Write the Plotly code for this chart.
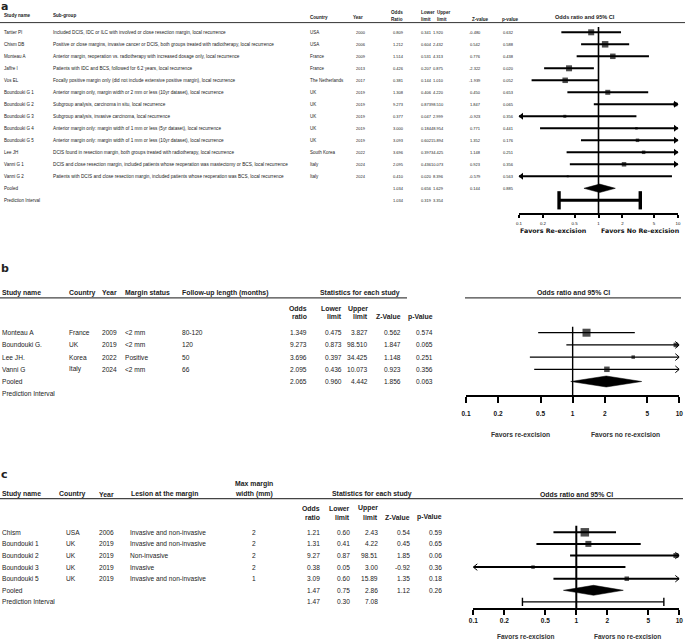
import plotly.graph_objects as go
import html

W, H = 685, 642

# ---------------- Panel a data ----------------
a_study = ["Tartter PI", "Chism DB", "Monteau A", "Jaffre I", "Vos EL",
           "Boundouki G 1", "Boundouki G 2", "Boundouki G 3", "Boundouki G 4",
           "Boundouki G 5", "Lee JH", "Vanni G 1", "Vanni G 2"]
a_subgroup = [
    "Included DCIS, IDC or ILC with involved or close resection margin, local recurrence",
    "Positive or close margins, invasive cancer or DCIS, both groups treated with radiotherapy, local recurrence",
    "Anterior margin, reoperation vs. radiotherapy with increased dosage only, local recurrence",
    "Patients with IDC and BCS, followed for 6.2 years, local recurrence",
    "Focally positive margin only (did not include extensive positive margin), local recurrence",
    "Anterior margin only, margin width or 2 mm or less (10yr dataset), local recurrence",
    "Subgroup analysis, carcinoma in situ, local recurrence",
    "Subgroup analysis, invasive carcinoma, local recurrence",
    "Anterior margin only: margin width of 1 mm or less (5yr dataset), local recurrence",
    "Anterior margin only: margin width of 1 mm or less (10yr dataset), local recurrence",
    "DCIS found in resection margin, both groups treated with radiotherapy, local recurrence",
    "DCIS and close resection margin, included patients whose reoperation was mastectomy or BCS, local recurrence",
    "Patients with DCIS and close resection margin, included patients whose reoperation was BCS, local recurrence",
]
a_country = ["USA", "USA", "France", "France", "The Netherlands", "UK", "UK", "UK",
             "UK", "UK", "South Korea", "Italy", "Italy"]
a_year = ["2000", "2006", "2009", "2013", "2017", "2019", "2019", "2019", "2019",
          "2019", "2022", "2024", "2024"]
a_or = [0.809, 1.212, 1.514, 0.426, 0.381, 1.308, 9.273, 0.377, 3.000, 3.093, 3.696, 2.095, 0.410]
a_lo = [0.341, 0.604, 0.531, 0.207, 0.144, 0.406, 0.873, 0.047, 0.184, 0.602, 0.397, 0.436, 0.020]
a_hi = [1.920, 2.432, 4.313, 0.875, 1.010, 4.220, 98.510, 2.999, 48.954, 15.894, 34.425, 10.073, 8.396]
a_z = [-0.480, 0.542, 0.776, -2.322, -1.939, 0.450, 1.847, -0.923, 0.771, 1.352, 1.148, 0.923, -0.579]
a_p = [0.632, 0.588, 0.438, 0.020, 0.052, 0.653, 0.065, 0.356, 0.441, 0.176, 0.251, 0.356, 0.563]
a_pooled = [1.034, 0.656, 1.629, 0.144, 0.885]      # OR, lower, upper, Z, p
a_pred = [1.034, 0.319, 3.354]                      # OR, lower, upper

# ---------------- Panel b data ----------------
b_study = ["Monteau A", "Boundouki G.", "Lee JH.", "Vanni G"]
b_country = ["France", "UK", "Korea", "Italy"]
b_year = ["2009", "2019", "2022", "2024"]
b_margin = ["<2 mm", "<2 mm", "Positive", "<2 mm"]
b_follow = ["80-120", "120", "50", "66"]
b_or = [1.349, 9.273, 3.696, 2.095]
b_lo = [0.475, 0.873, 0.397, 0.436]
b_hi = [3.827, 98.510, 34.425, 10.073]
b_z = [0.562, 1.847, 1.148, 0.923]
b_p = [0.574, 0.065, 0.251, 0.356]
b_pooled = [2.065, 0.960, 4.442, 1.856, 0.063]

# ---------------- Panel c data ----------------
c_study = ["Chism", "Boundouki 1", "Boundouki 2", "Boundouki 3", "Boundouki 5"]
c_country = ["USA", "UK", "UK", "UK", "UK"]
c_year = ["2006", "2019", "2019", "2019", "2019"]
c_lesion = ["Invasive and non-invasive", "Invasive and non-invasive", "Non-invasive",
            "Invasive", "Invasive and non-invasive"]
c_width = ["2", "2", "2", "2", "1"]
c_or = [1.21, 1.31, 9.27, 0.38, 3.09]
c_lo = [0.60, 0.41, 0.87, 0.05, 0.60]
c_hi = [2.43, 4.22, 98.51, 3.00, 15.89]
c_z = [0.54, 0.45, 1.85, -0.92, 1.35]
c_p = [0.59, 0.65, 0.06, 0.36, 0.18]
c_pooled = [1.47, 0.75, 2.86, 1.12, 0.26]
c_pred = [1.47, 0.30, 7.08]

tick_vals = [0.1, 0.2, 0.5, 1, 2, 5, 10]
tick_text = ["0.1", "0.2", "0.5", "1", "2", "5", "10"]

# ---------------- styles (box sizes in px) ----------------
a_box = [6, 6.5, 5.5, 6, 5.5, 5, 4, 3, 2.5, 3.5, 3.5, 4.5, 2]
b_box = [8, 4.5, 3.5, 5.5]
c_box = [8.5, 6, 5, 3.5, 4.5]

FONT = "Liberation Sans, Arial, sans-serif"
TXT = "#222222"
XMIN, XMAX = 0.1, 10

ann = []
shapes = []
traces = []
layout = {}


def T(x, y, s, size=5.0, anchor="left", bold=False, color=TXT, fam=FONT):
    s = html.escape(str(s), quote=False)
    if bold:
        s = f"<b>{s}</b>"
    ann.append(dict(x=x / W, y=1 - y / H, xref="paper", yref="paper", text=s,
                    showarrow=False, xanchor=anchor, yanchor="middle",
                    font=dict(size=size, color=color, family=fam),
                    borderpad=0, borderwidth=0))


def HL(x0, x1, y, w=1.0, color="#444444"):
    shapes.append(dict(type="line", xref="paper", yref="paper", x0=x0 / W, x1=x1 / W,
                       y0=1 - y / H, y1=1 - y / H, line=dict(color=color, width=w)))


def panel(idx, x0px, x1px, row0, drow, axis_py, top_py, ticklen, tickfont, linew, standoff):
    bottom_row = (axis_py - row0) / drow
    top_row = (top_py - row0) / drow
    layout[f"xaxis{idx}"] = dict(type="log", range=[-1, 1], domain=[x0px / W, x1px / W],
                                 anchor=f"y{idx}", showline=True, linecolor="black",
                                 linewidth=linew, ticks="outside", ticklen=ticklen,
                                 tickwidth=linew, tickcolor="black", tickvals=tick_vals,
                                 ticktext=tick_text, tickfont=tickfont, showgrid=False,
                                 zeroline=False, fixedrange=True, automargin=False,
                                 ticklabelstandoff=standoff)
    layout[f"yaxis{idx}"] = dict(range=[bottom_row, top_row],
                                 domain=[1 - axis_py / H, 1 - top_py / H],
                                 visible=False, anchor=f"x{idx}", fixedrange=True,
                                 automargin=False)
    return bottom_row, (x1px - x0px) / 2.0  # px per decade


def add(tr, idx):
    tr.update(xaxis=f"x{idx}", yaxis=f"y{idx}", hoverinfo="skip", showlegend=False,
              cliponaxis=False)
    traces.append(tr)


def forest(idx, ors, los, his, box, lw, decade_px, vline_top_row, bottom_row,
           vline_w, arrow_style, arrow_px=5.0):
    rows = list(range(len(ors)))
    add(go.Scatter(x=[1, 1], y=[vline_top_row, bottom_row], mode="lines",
                   line=dict(color="black", width=vline_w)), idx)
    xs, ys = [], []
    for l, h, r in zip(los, his, rows):
        xs += [max(l, XMIN), min(h, XMAX), None]
        ys += [r, r, None]
    add(go.Scatter(x=xs, y=ys, mode="lines", line=dict(color="black", width=lw)), idx)
    add(go.Scatter(x=ors, y=rows, mode="markers",
                   marker=dict(symbol="square", size=box, color="black",
                               line=dict(width=0))), idx)
    right = [r for h, r in zip(his, rows) if h > XMAX]
    left = [r for l, r in zip(los, rows) if l < XMIN]
    if arrow_style == "filled":
        shift = 10 ** (arrow_px / 2 / decade_px)
        if right:
            add(go.Scatter(x=[XMAX / shift] * len(right), y=right, mode="markers",
                           marker=dict(symbol="triangle-right", size=arrow_px * 1.2,
                                       color="black", line=dict(width=0))), idx)
        if left:
            add(go.Scatter(x=[XMIN * shift] * len(left), y=left, mode="markers",
                           marker=dict(symbol="triangle-left", size=arrow_px * 1.2,
                                       color="black", line=dict(width=0))), idx)
    else:
        back = 10 ** (arrow_px / decade_px)
        ax, ay = [], []
        for r in right:
            ax += [XMAX / back, XMAX, XMAX / back, None]
            ay += [r - 0.28, r, r + 0.28, None]
        for r in left:
            ax += [XMIN * back, XMIN, XMIN * back, None]
            ay += [r - 0.28, r, r + 0.28, None]
        if ax:
            add(go.Scatter(x=ax, y=ay, mode="lines",
                           line=dict(color="black", width=1.0)), idx)


def diamond(idx, est, lo, hi, row, half):
    add(go.Scatter(x=[lo, est, hi, est, lo], y=[row, row - half, row, row + half, row],
                   mode="lines", fill="toself", fillcolor="black",
                   line=dict(color="black", width=0.5)), idx)


def pred_bar(idx, lo, hi, row, half, lw, capw):
    add(go.Scatter(x=[lo, hi], y=[row, row], mode="lines",
                   line=dict(color="black", width=lw)), idx)
    add(go.Scatter(x=[lo, lo, None, hi, hi], y=[row - half, row + half, None, row - half, row + half],
                   mode="lines", line=dict(color="black", width=capw)), idx)


def f3(v):
    return f"{v:.3f}"


def f2(v):
    return f"{v:.2f}"


# =====================================================================
# Panel a
# =====================================================================
a_row0, a_drow = 32.3, 12.0
a_ry = lambda i: a_row0 + i * a_drow
T(1, 6.5, "a", size=11, bold=True, fam="DejaVu Sans, Arial")
hs = 4.6
T(4, 15.7, "Study name", hs, bold=True)
T(53, 15.7, "Sub-group", hs, bold=True)
T(310, 17.5, "Country", hs, bold=True)
T(353, 17.5, "Year", hs, bold=True)
T(397, 12.8, "Odds", hs, "center", True)
T(397, 19.4, "Ratio", hs, "center", True)
T(421, 12.8, "Lower", hs, bold=True)
T(421, 19.4, "limit", hs, bold=True)
T(436.5, 12.8, "Upper", hs, bold=True)
T(436.5, 19.4, "limit", hs, bold=True)
T(472, 19.4, "Z-value", hs, bold=True)
T(502, 19.4, "p-value", hs, bold=True)
T(585, 17.3, "Odds ratio and 95% CI", 5.6, "center", True)
HL(0, 685, 22.6, 1.0, "#333333")

bs = 4.5
ns = 4.0
for i in range(len(a_study)):
    y = a_ry(i)
    T(4, y, a_study[i], bs)
    T(53, y, a_subgroup[i], 4.7)
    T(310, y, a_country[i], bs)
    T(356, y, a_year[i], ns)
    T(393, y, f3(a_or[i]), ns)
    T(420.5, y, f3(a_lo[i]), ns)
    T(444, y, f3(a_hi[i]), ns, "right")
    T(481, y, f3(a_z[i]), ns, "right")
    T(503, y, f3(a_p[i]), ns)
n = len(a_study)
T(4, a_ry(n), "Pooled", bs)
T(393, a_ry(n), f3(a_pooled[0]), ns)
T(420.5, a_ry(n), f3(a_pooled[1]), ns)
T(444, a_ry(n), f3(a_pooled[2]), ns, "right")
T(481, a_ry(n), f3(a_pooled[3]), ns, "right")
T(503, a_ry(n), f3(a_pooled[4]), ns)
T(4, a_ry(n + 1), "Prediction Interval", bs)
T(393, a_ry(n + 1), f3(a_pred[0]), ns)
T(420.5, a_ry(n + 1), f3(a_pred[1]), ns)
T(444, a_ry(n + 1), f3(a_pred[2]), ns, "right")

a_bottom, a_dec = panel(2, 519, 678, a_row0, a_drow, 213, 24, 3.5,
                        dict(size=4.4, family=FONT, color="#111"), 1.5, 1)
forest(2, a_or, a_lo, a_hi, a_box, 2.0, a_dec, (27 - a_row0) / a_drow, a_bottom, 1.6,
       "filled", 5.0)
diamond(2, a_pooled[0], a_pooled[1], a_pooled[2], n, 0.35)
pred_bar(2, a_pred[1], a_pred[2], n + 1, 0.76, 3.0, 3.4)
T(552.5, 230.7, "Favors Re-excision", 6.3, "center", True, "#111", "DejaVu Sans, Arial")
T(640, 230.7, "Favors No Re-excision", 6.3, "center", True, "#111", "DejaVu Sans, Arial")

# =====================================================================
# Panel b
# =====================================================================
b_row0, b_drow = 332.7, 12.2
b_ry = lambda i: b_row0 + i * b_drow
T(1, 268.5, "b", size=11, bold=True, fam="DejaVu Sans, Arial")
hb = 6.9
T(2, 292.7, "Study name", hb, bold=True)
T(68.7, 292.7, "Country", hb, bold=True)
T(101.7, 292.7, "Year", hb, bold=True)
T(125, 292.7, "Margin status", hb, bold=True)
T(181.7, 292.7, "Follow-up length (months)", hb, bold=True)
T(360, 292.7, "Statistics for each study", hb, "center", True)
T(573, 292.7, "Odds ratio and 95% CI", hb, "center", True)
HL(0, 407, 297.8, 1.2)
HL(465, 681, 297.8, 1.2)
T(307, 308.7, "Odds", hb, "right", True)
T(307, 316.7, "ratio", hb, "right", True)
T(341.5, 308.7, "Lower", hb, "right", True)
T(341.5, 316.7, "limit", hb, "right", True)
T(367.7, 308.7, "Upper", hb, "right", True)
T(367.7, 316.7, "limit", hb, "right", True)
T(400.7, 316.7, "Z-Value", hb, "right", True)
T(433.3, 316.7, "p-Value", hb, "right", True)

tb = 6.6
for i in range(len(b_study)):
    y = b_ry(i)
    T(2, y, b_study[i], tb)
    T(68.7, y, b_country[i], tb)
    T(101.7, y, b_year[i], tb)
    T(125, y, b_margin[i], tb)
    T(181.7, y, b_follow[i], tb)
    T(307, y, f3(b_or[i]), tb, "right")
    T(341.5, y, f3(b_lo[i]), tb, "right")
    T(367.7, y, f3(b_hi[i]), tb, "right")
    T(400.7, y, f3(b_z[i]), tb, "right")
    T(433.3, y, f3(b_p[i]), tb, "right")
m = len(b_study)
T(2, b_ry(m), "Pooled", tb)
for xr, v in zip([307, 341.5, 367.7, 400.7, 433.3], b_pooled):
    T(xr, b_ry(m), f3(v), tb, "right")
T(2, b_ry(m + 1), "Prediction Interval", tb)

b_bottom, b_dec = panel(3, 466, 679.3, b_row0, b_drow, 395, 322, 6,
                        dict(size=6.5, family=FONT, color="#111", weight="bold"), 1.5, 5)
forest(3, b_or, b_lo, b_hi, b_box, 1.2, b_dec, (326.7 - b_row0) / b_drow, b_bottom, 1.4,
       "open", 4.0)
diamond(3, b_pooled[0], b_pooled[1], b_pooled[2], m, 0.45)
T(520, 434.3, "Favors re-excision", 6.7, "center", True, "#333")
T(625.7, 434.3, "Favors no re-excision", 6.7, "center", True, "#333")

# =====================================================================
# Panel c
# =====================================================================
c_row0, c_drow = 532.3, 11.6
c_ry = lambda i: c_row0 + i * c_drow
T(1, 474, "c", size=11, bold=True, fam="DejaVu Sans, Arial")
T(2, 494.3, "Study name", hb, bold=True)
T(58.7, 494.3, "Country", hb, bold=True)
T(99, 494.3, "Year", hb, bold=True)
T(131, 494.3, "Lesion at the margin", hb, bold=True)
T(254, 484.3, "Max margin", hb, "center", True)
T(254, 494.3, "width (mm)", hb, "center", True)
T(371.7, 494.3, "Statistics for each study", hb, "center", True)
T(576.7, 494.3, "Odds ratio and 95% CI", hb, "center", True)
HL(0, 683, 498.6, 1.2)
T(320, 508.3, "Odds", hb, "right", True)
T(320, 517.3, "ratio", hb, "right", True)
T(350, 508.3, "Lower", hb, "right", True)
T(350, 517.3, "limit", hb, "right", True)
T(378.3, 508.3, "Upper", hb, "right", True)
T(378.3, 517.3, "limit", hb, "right", True)
T(410, 517.3, "Z-Value", hb, "right", True)
T(441.7, 517.3, "p-Value", hb, "right", True)

for i in range(len(c_study)):
    y = c_ry(i)
    T(2, y, c_study[i], tb)
    T(66, y, c_country[i], tb)
    T(99, y, c_year[i], tb)
    T(130, y, c_lesion[i], tb)
    T(254, y, c_width[i], tb, "center")
    T(320, y, f2(c_or[i]), tb, "right")
    T(350, y, f2(c_lo[i]), tb, "right")
    T(378.3, y, f2(c_hi[i]), tb, "right")
    T(410, y, f2(c_z[i]), tb, "right")
    T(441.7, y, f2(c_p[i]), tb, "right")
k = len(c_study)
T(2, c_ry(k), "Pooled", tb)
for xr, v in zip([320, 350, 378.3, 410, 441.7], c_pooled):
    T(xr, c_ry(k), f2(v), tb, "right")
T(2, c_ry(k + 1), "Prediction Interval", tb)
for xr, v in zip([320, 350, 378.3], c_pred):
    T(xr, c_ry(k + 1), f2(v), tb, "right")

c_bottom, c_dec = panel(4, 473.3, 679.3, c_row0, c_drow, 608.3, 522, 4.5,
                        dict(size=6.5, family=FONT, color="#111", weight="bold"), 1.6, 1)
forest(4, c_or, c_lo, c_hi, c_box, 2.0, c_dec, (525.7 - c_row0) / c_drow, c_bottom, 2.0,
       "open", 4.0)
diamond(4, c_pooled[0], c_pooled[1], c_pooled[2], k, 0.43)
pred_bar(4, c_pred[1], c_pred[2], k + 1, 0.36, 1.2, 1.4)
T(525, 636.5, "Favors re-excision", 6.5, "center", True, "#333")
T(627.7, 636.5, "Favors no re-excision", 6.5, "center", True, "#333")

fig = go.Figure(data=traces)
fig.update_layout(width=W, height=H, margin=dict(l=0, r=0, t=0, b=0, pad=0),
                  autosize=False,
                  paper_bgcolor="white", plot_bgcolor="rgba(0,0,0,0)",
                  showlegend=False, annotations=ann, shapes=shapes,
                  font=dict(family=FONT, color=TXT), **layout)
fig.write_html("out.html", config={"displayModeBar": False},
               post_script="document.body.style.margin='0';document.body.style.overflow='hidden';")
